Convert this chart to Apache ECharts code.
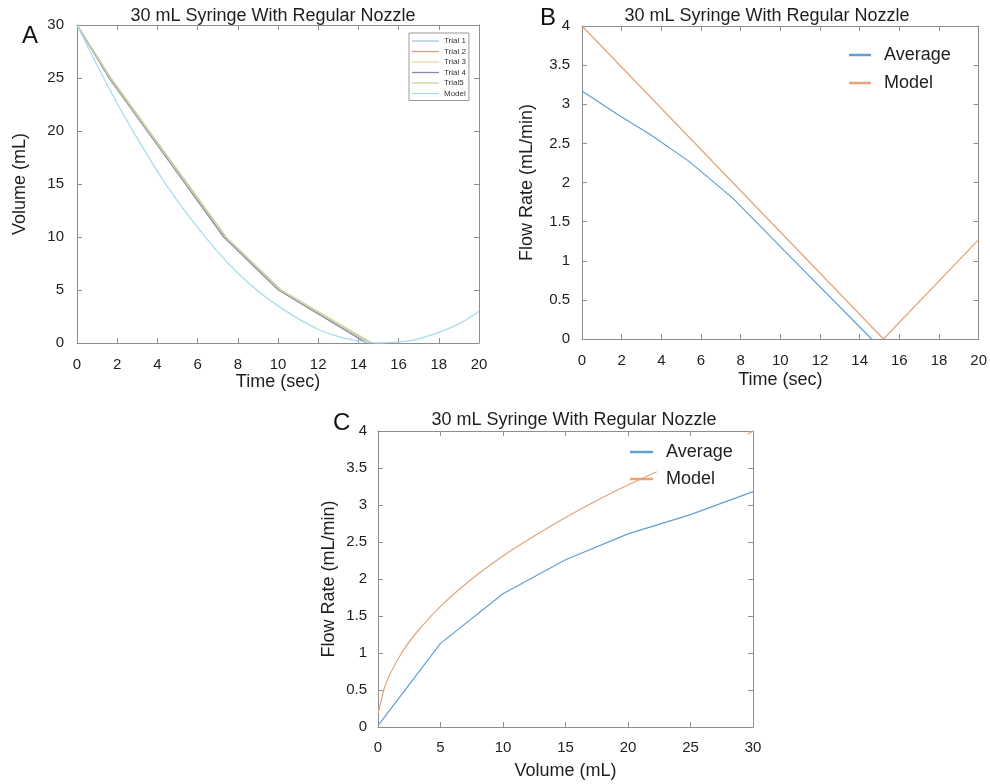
<!DOCTYPE html>
<html>
<head>
<meta charset="utf-8">
<script src="https://cdn.jsdelivr.net/npm/echarts@6/dist/echarts.min.js"></script>
<style>
html,body{margin:0;padding:0;background:#fff;}
#chart{width:990px;height:784px;}
</style>
</head>
<body>
<div id="chart"></div>
<script>
// ---------------- Data ----------------
const chartTitle = '30 mL Syringe With Regular Nozzle';

// Panel A: volume remaining (mL) vs time (sec)
const volumeSteps = [30, 25, 20, 15, 10, 5, 0];
const trial1Times = [0, 1.62, 3.52, 5.42, 7.32, 10.05, 14.45];
const trial2Times = [0, 1.68, 3.58, 5.50, 7.40, 10.15, 14.65];
const trial3Times = [0, 1.66, 3.56, 5.47, 7.36, 10.12, 14.70];
const trial4Times = [0, 1.60, 3.50, 5.40, 7.30, 10.02, 14.40];
const trial5Times = [0, 1.65, 3.55, 5.46, 7.38, 10.10, 14.58];
const trialNames = ['Trial 1', 'Trial 2', 'Trial 3', 'Trial 4', 'Trial5'];

const modelTimeA = [0, 1, 2, 3, 4, 5, 6, 7, 8, 9, 10, 11, 12, 13, 14, 15, 16, 17, 18, 19, 20];
const modelVolA  = [30, 26.2, 22.6, 19.3, 16.2, 13.4, 10.9, 8.6, 6.6, 4.9, 3.5, 2.3, 1.3, 0.6, 0.2, 0.0, 0.1, 0.4, 1.0, 1.8, 3.0];

// Panel B: flow rate vs time
const avgTimeB = [0, 1.8, 3.4, 5.4, 7.6, 10.2, 14.6];
const avgFlowB = [3.17, 2.87, 2.62, 2.27, 1.80, 1.13, 0];
const modelTimeB = [0, 15.2, 20];
const modelFlowB = [4.0, 0, 1.27];

// Panel C: flow rate vs volume
const avgVolC  = [0, 5, 10, 15, 20, 25, 30];
const avgFlowC = [0.02, 1.13, 1.80, 2.26, 2.61, 2.87, 3.18];
const modelVolC  = [0, 0.1, 0.5, 1, 2, 3, 5, 7.5, 10, 12.5, 15, 17.5, 20, 22.3, 26, 29.6, 30];
const modelFlowC = [0.18, 0.25, 0.52, 0.73, 1.03, 1.26, 1.63, 2.0, 2.31, 2.58, 2.83, 3.06, 3.27, 3.45, '-', 3.96, 4.0];

// ---------------- Styles ----------------
const FONT = '"Liberation Sans", Arial, sans-serif';
const BOX = '#8e8e8e';
const TXT = '#1e1e1e';
const trialColors = ['#a9c6e3', '#d3a08a', '#ecd6a4', '#8e86ad', '#bdd79f'];
const modelAColor = '#a6dcee';
const avgColor = '#5f9fd6';
const modelColor = '#e5a377';

function zip(xs, ys) { return xs.map((x, i) => [x, ys[i]]); }

function xAxes(grid, min, max, interval, name, margin, nameGap, fs) {
  return [
    { gridIndex: grid, type: 'value', position: 'bottom', min, max, interval,
      name, nameLocation: 'middle', nameGap,
      nameTextStyle: { fontFamily: FONT, fontSize: 18, color: TXT },
      axisLine: { show: true, onZero: false, lineStyle: { color: BOX, width: 1 } },
      axisTick: { show: true, inside: true, length: 5, lineStyle: { color: BOX } },
      axisLabel: { margin, fontFamily: FONT, fontSize: fs, color: TXT },
      splitLine: { show: false } },
    { gridIndex: grid, type: 'value', position: 'top', min, max, interval,
      axisLine: { show: true, onZero: false, lineStyle: { color: BOX, width: 1 } },
      axisTick: { show: true, inside: true, length: 5, lineStyle: { color: BOX } },
      axisLabel: { show: false }, splitLine: { show: false } }
  ];
}
function yAxes(grid, min, max, interval, name, margin, nameGap, fs) {
  return [
    { gridIndex: grid, type: 'value', position: 'left', min, max, interval,
      name, nameLocation: 'middle', nameGap,
      nameTextStyle: { fontFamily: FONT, fontSize: 18, color: TXT },
      axisLine: { show: true, onZero: false, lineStyle: { color: BOX, width: 1 } },
      axisTick: { show: true, inside: true, length: 5, lineStyle: { color: BOX } },
      axisLabel: { margin, fontFamily: FONT, fontSize: fs, color: TXT },
      splitLine: { show: false } },
    { gridIndex: grid, type: 'value', position: 'right', min, max, interval,
      axisLine: { show: true, onZero: false, lineStyle: { color: BOX, width: 1 } },
      axisTick: { show: true, inside: true, length: 5, lineStyle: { color: BOX } },
      axisLabel: { show: false }, splitLine: { show: false } }
  ];
}

const trialTimes = [trial1Times, trial2Times, trial3Times, trial4Times, trial5Times];
const series = [];
trialTimes.forEach((tt, i) => {
  series.push({ name: trialNames[i], type: 'line', xAxisIndex: 0, yAxisIndex: 0,
    data: zip(tt, volumeSteps), symbol: 'none', color: trialColors[i],
    lineStyle: { width: 1.3, color: trialColors[i] } });
});
series.push({ name: 'A-Model', type: 'line', xAxisIndex: 0, yAxisIndex: 0,
  data: zip(modelTimeA, modelVolA), symbol: 'none', smooth: 0.3, color: modelAColor,
  lineStyle: { width: 1.3, color: modelAColor } });

series.push({ name: 'B-Average', type: 'line', xAxisIndex: 2, yAxisIndex: 2,
  data: zip(avgTimeB, avgFlowB), symbol: 'none', color: avgColor,
  lineStyle: { width: 1.2, color: avgColor } });
series.push({ name: 'B-Model', type: 'line', xAxisIndex: 2, yAxisIndex: 2,
  data: zip(modelTimeB, modelFlowB), symbol: 'none', color: modelColor,
  lineStyle: { width: 1.2, color: modelColor } });

series.push({ name: 'C-Average', type: 'line', xAxisIndex: 4, yAxisIndex: 4,
  data: zip(avgVolC, avgFlowC), symbol: 'none', color: avgColor,
  lineStyle: { width: 1.2, color: avgColor } });
series.push({ name: 'C-Model', type: 'line', xAxisIndex: 4, yAxisIndex: 4,
  data: zip(modelVolC, modelFlowC), symbol: 'none', smooth: 0.3, connectNulls: false, color: modelColor,
  lineStyle: { width: 1.2, color: modelColor } });

const stripPrefix = n => n.replace(/^[ABC]-/, '');

const option = {
  animation: false,
  backgroundColor: '#fff',
  title: [
    { text: chartTitle, left: 268, top: 2, textAlign: 'center',
      textStyle: { fontFamily: FONT, fontSize: 18, fontWeight: 'normal', color: TXT } },
    { text: chartTitle, left: 762, top: 2, textAlign: 'center',
      textStyle: { fontFamily: FONT, fontSize: 18, fontWeight: 'normal', color: TXT } },
    { text: chartTitle, left: 569, top: 406, textAlign: 'center',
      textStyle: { fontFamily: FONT, fontSize: 18, fontWeight: 'normal', color: TXT } }
  ],
  graphic: [
    { type: 'text', left: 22, top: 24, style: { text: 'A', font: '24px ' + FONT, fill: '#111' } },
    { type: 'text', left: 540, top: 6, style: { text: 'B', font: '24px ' + FONT, fill: '#111' } },
    { type: 'text', left: 333, top: 411, style: { text: 'C', font: '24px ' + FONT, fill: '#111' } }
  ],
  legend: [
    { data: trialNames.concat(['A-Model']), formatter: stripPrefix, orient: 'vertical',
      left: 409, top: 33, padding: [3, 3, 2, 3], itemGap: 0.5, itemWidth: 27, itemHeight: 1.3,
      icon: 'rect',
      borderColor: '#9a9a9a', borderWidth: 1, backgroundColor: '#fff',
      textStyle: { fontFamily: FONT, fontSize: 8, lineHeight: 10, color: '#333' } },
    { data: ['B-Average', 'B-Model'], formatter: stripPrefix, orient: 'vertical',
      left: 849, top: 45, padding: 0, itemGap: 8, itemWidth: 22, itemHeight: 2.5,
      icon: 'rect',
      textStyle: { fontFamily: FONT, fontSize: 18, lineHeight: 20, color: TXT, padding: [0, 0, 0, 8] } },
    { data: ['C-Average', 'C-Model'], formatter: stripPrefix, orient: 'vertical',
      left: 630, top: 442, padding: 0, itemGap: 7, itemWidth: 23, itemHeight: 2.5,
      icon: 'rect',
      textStyle: { fontFamily: FONT, fontSize: 18, lineHeight: 20, color: TXT, padding: [0, 0, 0, 8] } }
  ],
  grid: [
    { left: 77, top: 25, width: 402, height: 318 },
    { left: 582, top: 26, width: 397, height: 313 },
    { left: 378, top: 431, width: 375, height: 296 }
  ],
  xAxis: [].concat(
    xAxes(0, 0, 20, 2, 'Time (sec)', 14, 30, 15),
    xAxes(1, 0, 20, 2, 'Time (sec)', 14, 32, 15),
    xAxes(2, 0, 30, 5, 'Volume (mL)', 13, 35, 15)
  ),
  yAxis: [].concat(
    yAxes(0, 0, 30, 5, 'Volume (mL)', 13, 48, 15),
    yAxes(1, 0, 4, 0.5, 'Flow Rate (mL/min)', 12, 46, 15),
    yAxes(2, 0, 4, 0.5, 'Flow Rate (mL/min)', 11, 40, 15)
  ),
  series
};

const chart = echarts.init(document.getElementById('chart'), null, { renderer: 'canvas' });
chart.setOption(option);
</script>
</body>
</html>
